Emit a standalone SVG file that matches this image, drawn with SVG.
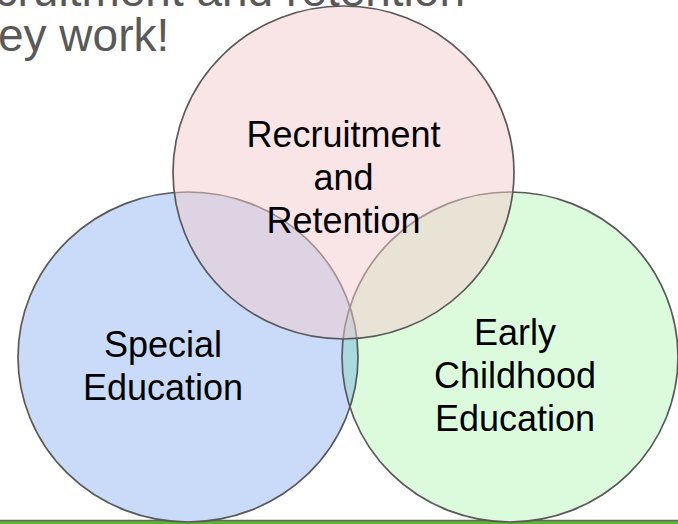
<svg xmlns="http://www.w3.org/2000/svg" xmlns:xlink="http://www.w3.org/1999/xlink" width="678" height="524" viewBox="0 0 678 524">
<style>
.outline{fill:none;stroke:#595959;stroke-width:1.7}
.label{font-family:"Liberation Sans",Arial,sans-serif;font-size:36px;fill:#000000;text-anchor:middle}
.title{font-family:"Liberation Sans",Arial,sans-serif;font-size:46px;fill:#595959}
</style>
<defs>
<ellipse id="eBlue" cx="188" cy="357" rx="170" ry="165"/>
<ellipse id="eGreen" cx="510" cy="357" rx="168" ry="165"/>
<clipPath id="clipBlue"><use href="#eBlue" xlink:href="#eBlue"/></clipPath>
</defs>
<rect width="678" height="524" fill="#ffffff"/>
<g id="footer-bar">
<rect x="0" y="520" width="678" height="4" fill="#5db42f"/>
<line x1="0" y1="520.5" x2="678" y2="520.5" stroke="#666666" stroke-width="1.5"/>
</g>
<g id="title">
<text class="title" x="465" y="6" text-anchor="end">ecruitment and retention</text>
<text class="title" x="-2" y="51">ey work!</text>
</g>
<g id="node-special-education">
<use href="#eBlue" xlink:href="#eBlue" fill="#c9dbf9"/>
<text class="label" x="163" y="357">Special</text>
<text class="label" x="163" y="400">Education</text>
</g>
<g id="node-early-childhood-education">
<use href="#eGreen" xlink:href="#eGreen" fill="#dcfbdc"/>
<text class="label" x="515" y="345">Early</text>
<text class="label" x="515" y="388">Childhood</text>
<text class="label" x="515" y="431">Education</text>
</g>
<g id="overlap">
<use href="#eGreen" xlink:href="#eGreen" fill="#aad9e0" clip-path="url(#clipBlue)"/>
<use href="#eBlue" xlink:href="#eBlue" class="outline"/>
<use href="#eGreen" xlink:href="#eGreen" class="outline"/>
</g>
<g id="node-recruitment-and-retention">
<ellipse cx="343.5" cy="172.5" rx="170.5" ry="166.5" fill-opacity="0.5" class="outline" style="fill:#f3cbcd"/>
<text class="label" x="343.5" y="147">Recruitment</text>
<text class="label" x="343.5" y="190">and</text>
<text class="label" x="343.5" y="233">Retention</text>
</g>
<g id="connectors"/>
</svg>
